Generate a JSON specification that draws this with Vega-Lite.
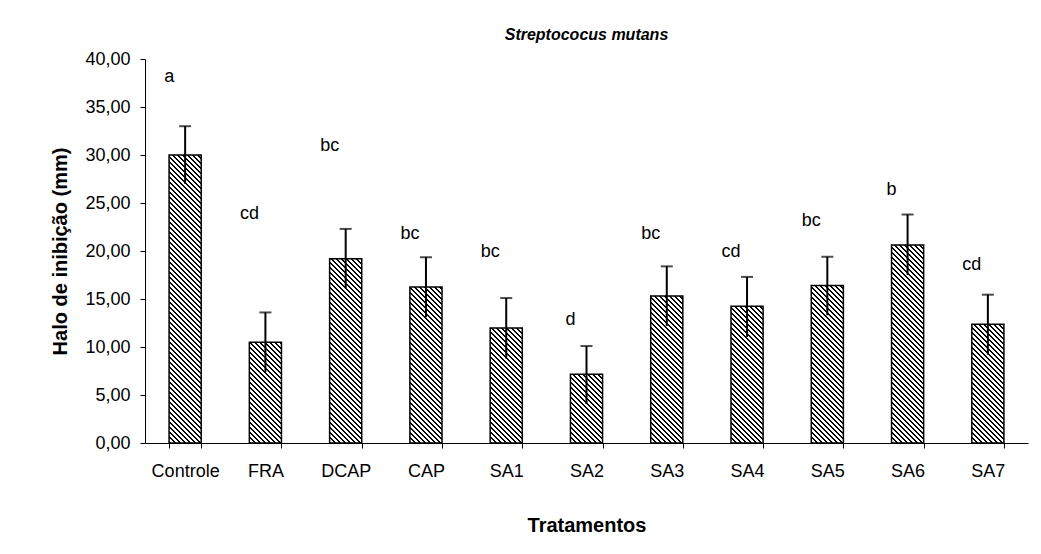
{
  "$schema": "https://vega.github.io/schema/vega-lite/v6.json",
  "width": 883,
  "height": 384,
  "autosize": {"type": "none"},
  "padding": {"left": 145, "top": 59, "right": 13, "bottom": 111},
  "background": "white",
  "config": {
    "view": {"stroke": null},
    "font": "Liberation Sans",
    "axis": {"domainColor": "black", "tickColor": "black", "labelColor": "black", "titleColor": "black", "grid": false}
  },
  "title": {"text": "Streptococus mutans", "font": "Liberation Sans", "fontSize": 16, "fontWeight": "bold", "fontStyle": "italic", "anchor": "middle", "offset": 7, "color": "black"},
  "data": {
    "values": [
      {"t": "Controle", "mean": 30.0, "lo": 27.0, "hi": 33.0, "letter": "a", "ly": 37.6},
      {"t": "FRA", "mean": 10.5, "lo": 7.4, "hi": 13.6, "letter": "cd", "ly": 23.3},
      {"t": "DCAP", "mean": 19.2, "lo": 16.1, "hi": 22.3, "letter": "bc", "ly": 30.4},
      {"t": "CAP", "mean": 16.25, "lo": 13.1, "hi": 19.35, "letter": "bc", "ly": 21.3},
      {"t": "SA1", "mean": 11.98, "lo": 8.8, "hi": 15.1, "letter": "bc", "ly": 19.4},
      {"t": "SA2", "mean": 7.16, "lo": 4.05, "hi": 10.1, "letter": "d", "ly": 12.3},
      {"t": "SA3", "mean": 15.32, "lo": 12.2, "hi": 18.4, "letter": "bc", "ly": 21.3},
      {"t": "SA4", "mean": 14.24, "lo": 11.05, "hi": 17.3, "letter": "cd", "ly": 19.35},
      {"t": "SA5", "mean": 16.4, "lo": 13.3, "hi": 19.4, "letter": "bc", "ly": 22.6},
      {"t": "SA6", "mean": 20.63, "lo": 17.5, "hi": 23.8, "letter": "b", "ly": 25.8},
      {"t": "SA7", "mean": 12.36, "lo": 9.2, "hi": 15.45, "letter": "cd", "ly": 18.0}
    ]
  },
  "encoding": {
    "x": {
      "field": "t", "type": "nominal", "sort": null,
      "scale": {"paddingInner": 0.6, "paddingOuter": 0.3},
      "axis": {"title": "Tratamentos", "labelAngle": 0, "tickBand": "extent", "tickSize": 5, "labelPadding": 14, "labelFontSize": 18, "titleFontSize": 20, "titleFontWeight": "bold", "titlePadding": 35}
    }
  },
  "layer": [
    {
      "mark": {"type": "bar", "stroke": "black", "strokeWidth": 1.5},
      "encoding": {
        "y": {
          "field": "mean", "type": "quantitative", "title": "Halo de inibição (mm)",
          "scale": {"domain": [0, 40], "nice": false},
          "axis": {"values": [0, 5, 10, 15, 20, 25, 30, 35, 40], "labelExpr": "replace(format(datum.value, '.2f'), '.', ',')", "tickSize": 5, "labelPadding": 10, "labelFontSize": 18, "titleFontSize": 20, "titleFontWeight": "bold", "titlePadding": 14}
        },
        "fill": {"value": {"expr": "{gradient:'linear',x1:0,y1:1,x2:500*bandwidth('x')/(pow(bandwidth('x'),2)+pow(scale('y',0)-scale('y',datum.mean),2)),y2:1-500*(scale('y',0)-scale('y',datum.mean))/(pow(bandwidth('x'),2)+pow(scale('y',0)-scale('y',datum.mean),2)),stops:[{offset:0,color:'#000'},{offset:.004,color:'#000'},{offset:.004,color:'#fff'},{offset:.01,color:'#fff'},{offset:.01,color:'#000'},{offset:.014,color:'#000'},{offset:.014,color:'#fff'},{offset:.02,color:'#fff'},{offset:.02,color:'#000'},{offset:.024,color:'#000'},{offset:.024,color:'#fff'},{offset:.03,color:'#fff'},{offset:.03,color:'#000'},{offset:.034,color:'#000'},{offset:.034,color:'#fff'},{offset:.04,color:'#fff'},{offset:.04,color:'#000'},{offset:.044,color:'#000'},{offset:.044,color:'#fff'},{offset:.05,color:'#fff'},{offset:.05,color:'#000'},{offset:.054,color:'#000'},{offset:.054,color:'#fff'},{offset:.06,color:'#fff'},{offset:.06,color:'#000'},{offset:.064,color:'#000'},{offset:.064,color:'#fff'},{offset:.07,color:'#fff'},{offset:.07,color:'#000'},{offset:.074,color:'#000'},{offset:.074,color:'#fff'},{offset:.08,color:'#fff'},{offset:.08,color:'#000'},{offset:.084,color:'#000'},{offset:.084,color:'#fff'},{offset:.09,color:'#fff'},{offset:.09,color:'#000'},{offset:.094,color:'#000'},{offset:.094,color:'#fff'},{offset:.1,color:'#fff'},{offset:.1,color:'#000'},{offset:.104,color:'#000'},{offset:.104,color:'#fff'},{offset:.11,color:'#fff'},{offset:.11,color:'#000'},{offset:.114,color:'#000'},{offset:.114,color:'#fff'},{offset:.12,color:'#fff'},{offset:.12,color:'#000'},{offset:.124,color:'#000'},{offset:.124,color:'#fff'},{offset:.13,color:'#fff'},{offset:.13,color:'#000'},{offset:.134,color:'#000'},{offset:.134,color:'#fff'},{offset:.14,color:'#fff'},{offset:.14,color:'#000'},{offset:.144,color:'#000'},{offset:.144,color:'#fff'},{offset:.15,color:'#fff'},{offset:.15,color:'#000'},{offset:.154,color:'#000'},{offset:.154,color:'#fff'},{offset:.16,color:'#fff'},{offset:.16,color:'#000'},{offset:.164,color:'#000'},{offset:.164,color:'#fff'},{offset:.17,color:'#fff'},{offset:.17,color:'#000'},{offset:.174,color:'#000'},{offset:.174,color:'#fff'},{offset:.18,color:'#fff'},{offset:.18,color:'#000'},{offset:.184,color:'#000'},{offset:.184,color:'#fff'},{offset:.19,color:'#fff'},{offset:.19,color:'#000'},{offset:.194,color:'#000'},{offset:.194,color:'#fff'},{offset:.2,color:'#fff'},{offset:.2,color:'#000'},{offset:.204,color:'#000'},{offset:.204,color:'#fff'},{offset:.21,color:'#fff'},{offset:.21,color:'#000'},{offset:.214,color:'#000'},{offset:.214,color:'#fff'},{offset:.22,color:'#fff'},{offset:.22,color:'#000'},{offset:.224,color:'#000'},{offset:.224,color:'#fff'},{offset:.23,color:'#fff'},{offset:.23,color:'#000'},{offset:.234,color:'#000'},{offset:.234,color:'#fff'},{offset:.24,color:'#fff'},{offset:.24,color:'#000'},{offset:.244,color:'#000'},{offset:.244,color:'#fff'},{offset:.25,color:'#fff'},{offset:.25,color:'#000'},{offset:.254,color:'#000'},{offset:.254,color:'#fff'},{offset:.26,color:'#fff'},{offset:.26,color:'#000'},{offset:.264,color:'#000'},{offset:.264,color:'#fff'},{offset:.27,color:'#fff'},{offset:.27,color:'#000'},{offset:.274,color:'#000'},{offset:.274,color:'#fff'},{offset:.28,color:'#fff'},{offset:.28,color:'#000'},{offset:.284,color:'#000'},{offset:.284,color:'#fff'},{offset:.29,color:'#fff'},{offset:.29,color:'#000'},{offset:.294,color:'#000'},{offset:.294,color:'#fff'},{offset:.3,color:'#fff'},{offset:.3,color:'#000'},{offset:.304,color:'#000'},{offset:.304,color:'#fff'},{offset:.31,color:'#fff'},{offset:.31,color:'#000'},{offset:.314,color:'#000'},{offset:.314,color:'#fff'},{offset:.32,color:'#fff'},{offset:.32,color:'#000'},{offset:.324,color:'#000'},{offset:.324,color:'#fff'},{offset:.33,color:'#fff'},{offset:.33,color:'#000'},{offset:.334,color:'#000'},{offset:.334,color:'#fff'},{offset:.34,color:'#fff'},{offset:.34,color:'#000'},{offset:.344,color:'#000'},{offset:.344,color:'#fff'},{offset:.35,color:'#fff'},{offset:.35,color:'#000'},{offset:.354,color:'#000'},{offset:.354,color:'#fff'},{offset:.36,color:'#fff'},{offset:.36,color:'#000'},{offset:.364,color:'#000'},{offset:.364,color:'#fff'},{offset:.37,color:'#fff'},{offset:.37,color:'#000'},{offset:.374,color:'#000'},{offset:.374,color:'#fff'},{offset:.38,color:'#fff'},{offset:.38,color:'#000'},{offset:.384,color:'#000'},{offset:.384,color:'#fff'},{offset:.39,color:'#fff'},{offset:.39,color:'#000'},{offset:.394,color:'#000'},{offset:.394,color:'#fff'},{offset:.4,color:'#fff'},{offset:.4,color:'#000'},{offset:.404,color:'#000'},{offset:.404,color:'#fff'},{offset:.41,color:'#fff'},{offset:.41,color:'#000'},{offset:.414,color:'#000'},{offset:.414,color:'#fff'},{offset:.42,color:'#fff'},{offset:.42,color:'#000'},{offset:.424,color:'#000'},{offset:.424,color:'#fff'},{offset:.43,color:'#fff'},{offset:.43,color:'#000'},{offset:.434,color:'#000'},{offset:.434,color:'#fff'},{offset:.44,color:'#fff'},{offset:.44,color:'#000'},{offset:.444,color:'#000'},{offset:.444,color:'#fff'},{offset:.45,color:'#fff'},{offset:.45,color:'#000'},{offset:.454,color:'#000'},{offset:.454,color:'#fff'},{offset:.46,color:'#fff'},{offset:.46,color:'#000'},{offset:.464,color:'#000'},{offset:.464,color:'#fff'},{offset:.47,color:'#fff'},{offset:.47,color:'#000'},{offset:.474,color:'#000'},{offset:.474,color:'#fff'},{offset:.48,color:'#fff'},{offset:.48,color:'#000'},{offset:.484,color:'#000'},{offset:.484,color:'#fff'},{offset:.49,color:'#fff'},{offset:.49,color:'#000'},{offset:.494,color:'#000'},{offset:.494,color:'#fff'},{offset:.5,color:'#fff'},{offset:.5,color:'#000'},{offset:.504,color:'#000'},{offset:.504,color:'#fff'},{offset:.51,color:'#fff'},{offset:.51,color:'#000'},{offset:.514,color:'#000'},{offset:.514,color:'#fff'},{offset:.52,color:'#fff'},{offset:.52,color:'#000'},{offset:.524,color:'#000'},{offset:.524,color:'#fff'},{offset:.53,color:'#fff'},{offset:.53,color:'#000'},{offset:.534,color:'#000'},{offset:.534,color:'#fff'},{offset:.54,color:'#fff'},{offset:.54,color:'#000'},{offset:.544,color:'#000'},{offset:.544,color:'#fff'},{offset:.55,color:'#fff'},{offset:.55,color:'#000'},{offset:.554,color:'#000'},{offset:.554,color:'#fff'},{offset:.56,color:'#fff'},{offset:.56,color:'#000'},{offset:.564,color:'#000'},{offset:.564,color:'#fff'},{offset:.57,color:'#fff'},{offset:.57,color:'#000'},{offset:.574,color:'#000'},{offset:.574,color:'#fff'},{offset:.58,color:'#fff'},{offset:.58,color:'#000'},{offset:.584,color:'#000'},{offset:.584,color:'#fff'},{offset:.59,color:'#fff'},{offset:.59,color:'#000'},{offset:.594,color:'#000'},{offset:.594,color:'#fff'},{offset:.6,color:'#fff'},{offset:.6,color:'#000'},{offset:.604,color:'#000'},{offset:.604,color:'#fff'},{offset:.61,color:'#fff'},{offset:.61,color:'#000'},{offset:.614,color:'#000'},{offset:.614,color:'#fff'},{offset:.62,color:'#fff'},{offset:.62,color:'#000'},{offset:.624,color:'#000'},{offset:.624,color:'#fff'},{offset:.63,color:'#fff'},{offset:.63,color:'#000'},{offset:.634,color:'#000'},{offset:.634,color:'#fff'},{offset:.64,color:'#fff'},{offset:.64,color:'#000'},{offset:.644,color:'#000'},{offset:.644,color:'#fff'},{offset:.65,color:'#fff'}]}"}}
      }
    },
    {
      "mark": {"type": "rule", "color": "black", "strokeWidth": 2},
      "encoding": {
        "y": {"field": "lo", "type": "quantitative", "title": "Halo de inibição (mm)"},
        "y2": {"field": "hi"}
      }
    },
    {
      "mark": {"type": "tick", "color": "black", "size": 12, "thickness": 2},
      "encoding": {
        "y": {"field": "hi", "type": "quantitative", "title": "Halo de inibição (mm)"}
      }
    },
    {
      "mark": {"type": "text", "fontSize": 18, "dx": -16, "baseline": "alphabetic", "align": "center", "color": "black"},
      "encoding": {
        "y": {"field": "ly", "type": "quantitative", "title": "Halo de inibição (mm)"},
        "text": {"field": "letter"}
      }
    }
  ]
}
